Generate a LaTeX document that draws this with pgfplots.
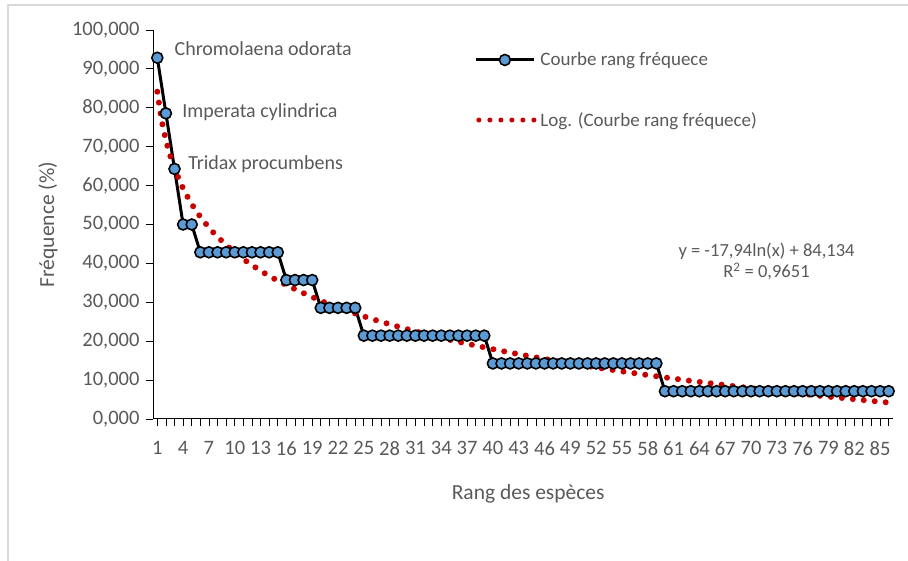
\documentclass[border=0pt]{standalone}
\usepackage{pgfplots}
\pgfplotsset{compat=1.18}
\usepackage{pgfplotstable}
\usepackage{fontspec}
\setmainfont{Carlito}
\definecolor{txtgray}{HTML}{595959}
\definecolor{mblue}{HTML}{5B9BD5}
\definecolor{tred}{HTML}{C80000}
\pgfplotstableread{
x y
1 92.857
2 78.571
3 64.286
4 50.000
5 50.000
6 42.857
7 42.857
8 42.857
9 42.857
10 42.857
11 42.857
12 42.857
13 42.857
14 42.857
15 42.857
16 35.714
17 35.714
18 35.714
19 35.714
20 28.571
21 28.571
22 28.571
23 28.571
24 28.571
25 21.429
26 21.429
27 21.429
28 21.429
29 21.429
30 21.429
31 21.429
32 21.429
33 21.429
34 21.429
35 21.429
36 21.429
37 21.429
38 21.429
39 21.429
40 14.286
41 14.286
42 14.286
43 14.286
44 14.286
45 14.286
46 14.286
47 14.286
48 14.286
49 14.286
50 14.286
51 14.286
52 14.286
53 14.286
54 14.286
55 14.286
56 14.286
57 14.286
58 14.286
59 14.286
60 7.143
61 7.143
62 7.143
63 7.143
64 7.143
65 7.143
66 7.143
67 7.143
68 7.143
69 7.143
70 7.143
71 7.143
72 7.143
73 7.143
74 7.143
75 7.143
76 7.143
77 7.143
78 7.143
79 7.143
80 7.143
81 7.143
82 7.143
83 7.143
84 7.143
85 7.143
86 7.143
}\freqtable
\pgfplotstableread{
x y
1 84.134
1.5 76.860
2 71.699
2.5 67.696
3 64.425
4 59.264
5 55.261
6 51.989
7 49.224
8 46.829
10 42.826
12 39.555
15 35.551
20 30.391
25 26.387
30 23.116
35 20.351
40 17.956
45 15.842
50 13.953
55 12.243
60 10.682
65 9.245
70 7.916
75 6.678
80 5.521
86 4.224
}\trendtable
\begin{document}
\begin{tikzpicture}[x=1bp,y=1bp]
\useasboundingbox (0,0) rectangle (908,561);
\draw[line width=1.5bp, black!15] (8,0) -- (8,556) -- (908,556);
\begin{axis}[
  at={(153bp,142bp)}, anchor=origin,
  scale only axis,
  width=740bp, height=389bp,
  xmin=0.5, xmax=86.5,
  ymin=0, ymax=100,
  axis x line*=bottom, axis y line*=left,
  axis line style={black, line width=1bp},
  xtick={1,4,...,85},
  minor xtick={1,...,86},
  ytick={0,10,...,100},
  tick align=outside,
  major tick length=7bp, minor tick length=7bp,
  tick style={black, line width=0.8bp},
  every tick label/.style={font=\fontsize{20.5bp}{24bp}\selectfont, text=txtgray},
  /pgf/number format/assume math mode=true,
  yticklabel style={xshift=-3bp, /pgf/number format/.cd, fixed, fixed zerofill, precision=3, use comma, 1000 sep={}},
  xticklabel style={yshift=-12bp, /pgf/number format/.cd, 1000 sep={}},
  xlabel={Rang des espèces},
  ylabel={Fréquence (\%)},
  label style={font=\fontsize{21.5bp}{25bp}\selectfont, text=txtgray},
  xlabel style={at={(axis description cs:0.507,-0.193)}, anchor=center},
  ylabel style={at={(axis description cs:-0.142,0.5)}, anchor=center},
  legend style={at={(axis description cs:0.43,0.95)}, anchor=north west, draw=none, fill=none,
    font=\fontsize{19bp}{23bp}\selectfont, text=txtgray, row sep=43bp,
    nodes={inner sep=1bp}},
  legend cell align=left,
  clip=false,
]
\addplot[black, line width=3bp, mark=*, mark size=5.5bp,
  mark options={fill=mblue, draw=black, line width=1.6bp},
  legend image code/.code={
    \draw[black, line width=3bp] (0bp,0bp) -- (58bp,0bp);
    \draw[fill=mblue, draw=black, line width=1.6bp] (29bp,0bp) circle (5.5bp);
  }] table[x=x,y=y] {\freqtable};
\addlegendentry{\hspace{3bp}Courbe rang fréquece}
\addplot[tred, smooth, line width=6bp, line cap=round, dash pattern=on 0bp off 11bp,
  legend image code/.code={
    \draw[tred, line width=5bp, line cap=round, dash pattern=on 0bp off 11bp] (3bp,0bp) -- (58bp,0bp);
  }] table[x=x,y=y] {\trendtable};
\addlegendentry{\hspace{3bp}Log. (Courbe rang fréquece)}
\node[anchor=west, font=\fontsize{20bp}{24bp}\selectfont, text=txtgray] at (axis cs:2.6,95.1) {Chromolaena odorata};
\node[anchor=west, font=\fontsize{20bp}{24bp}\selectfont, text=txtgray] at (axis cs:3.5,78.9) {Imperata cylindrica};
\node[anchor=west, font=\fontsize{20bp}{24bp}\selectfont, text=txtgray] at (axis cs:4.2,65.6) {Tridax procumbens};
\node[align=center, font=\fontsize{18.5bp}{21bp}\selectfont, text=txtgray] at (axis cs:71.8,40.4) {y = -17,94ln(x) + 84,134\\R\textsuperscript{2} = 0,9651};
\end{axis}
\end{tikzpicture}
\end{document}
